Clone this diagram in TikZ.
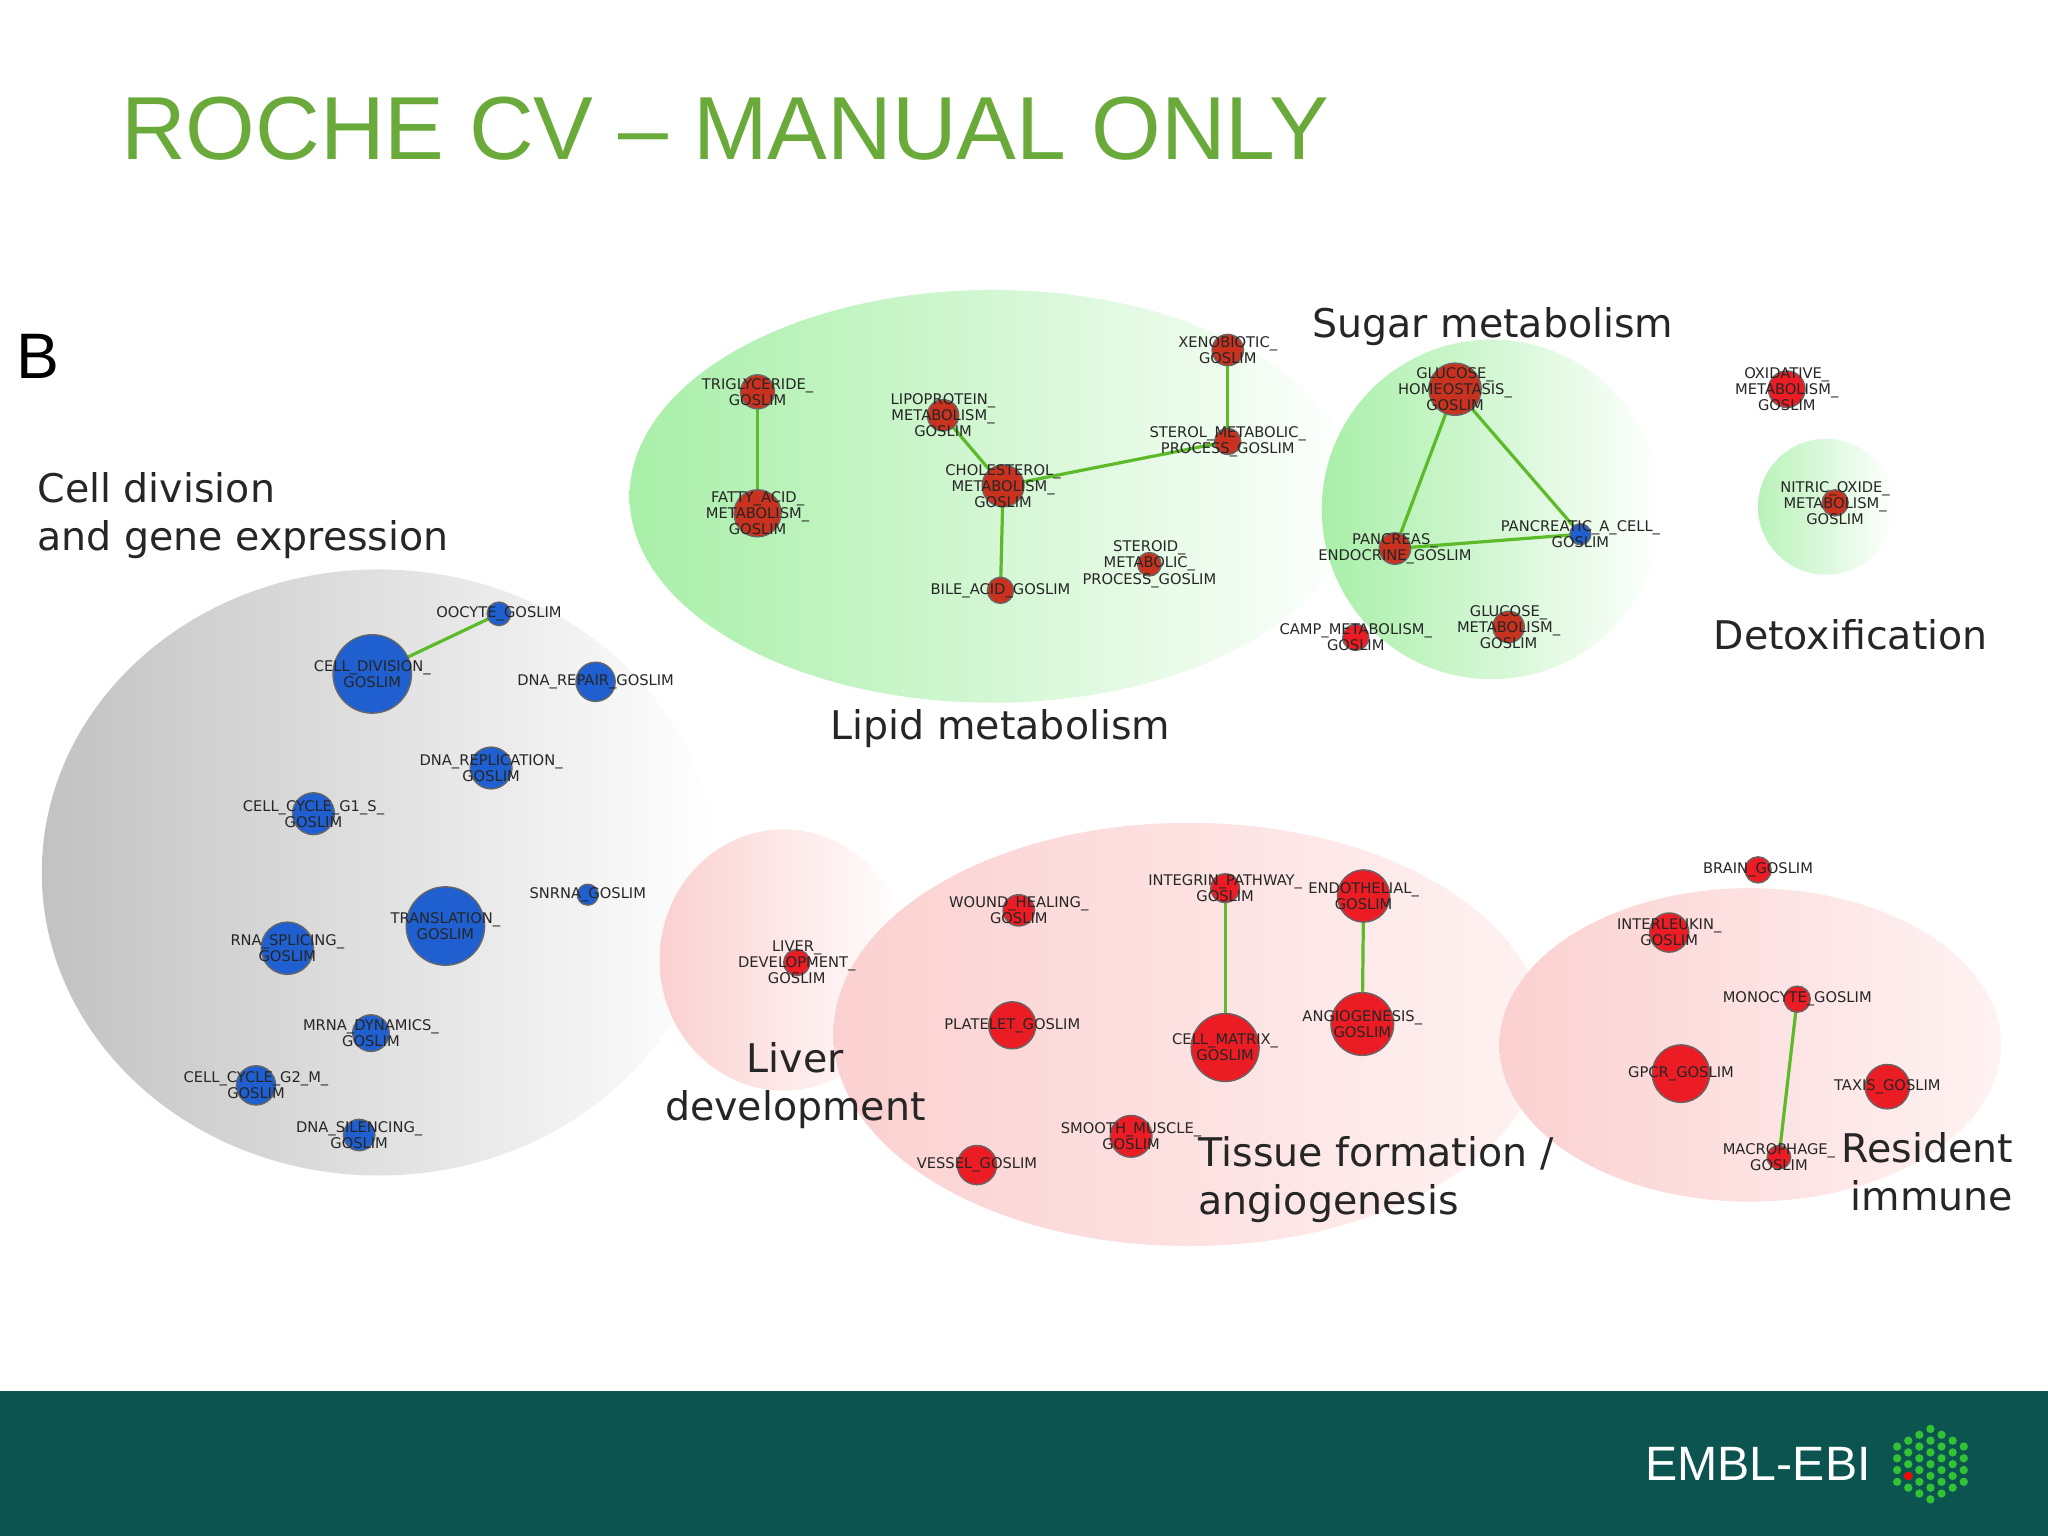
\documentclass[tikz,border=0pt]{standalone}
\usepackage{fontspec}
\setmainfont{DejaVu Sans}
\newfontfamily\titlefont{Liberation Sans}
\usetikzlibrary{shapes.geometric}
\definecolor{ttl}{HTML}{6AAA3A}
\definecolor{bar}{HTML}{0B5450}
\definecolor{nblue}{HTML}{1F5FD0}
\definecolor{nred}{HTML}{EC1C24}
\definecolor{nlip}{HTML}{C8321E}
\definecolor{edg}{HTML}{5DBB2A}
\definecolor{gblob}{HTML}{A8EFA8}
\definecolor{rblob}{HTML}{FBD0D0}
\pgfdeclarelayer{bg}
\pgfsetlayers{bg,main}
\tikzset{
 gnode/.style={circle,draw=black!60,line width=0.3pt,inner sep=0pt},
 glab/.style={font=\fontsize{3.2}{3.5}\selectfont,text=black!85,align=center,inner sep=0pt},
 grp/.style={font=\fontsize{8.6}{10.5}\selectfont,text=black!85,align=left,inner sep=0pt},
 gedge/.style={draw=edg,line width=0.7pt}
}
\newcommand\gn[6]{\node[gnode,fill=#5,minimum size=#4*0.02cm] (#1) at (#2,#3) {};\node[glab] (#1l) at (#2,#3) {#6};}
\begin{document}
\begin{tikzpicture}[x=0.01cm,y=-0.01cm]
\useasboundingbox (0,0) rectangle (1568,1176);
\begin{pgfonlayer}{bg}
\fill[white] (0,0) rectangle (1568,1176);
\shade[left color=black!24,right color=white] (290,668) ellipse [x radius=258,y radius=232];
\shade[left color=gblob,right color=white] (760,380) ellipse [x radius=278,y radius=158];
\shade[left color=gblob,right color=white] (1142,390) circle [radius=130];
\shade[left color=gblob!80!white,right color=white] (1398,388) circle [radius=52];
\shade[left color=rblob,right color=white] (600,735) ellipse [x radius=95,y radius=100];
\shade[left color=rblob,right color=white!95!red] (910,792) ellipse [x radius=272,y radius=162];
\shade[left color=rblob,right color=white!95!red] (1340,800) ellipse [x radius=192,y radius=120];
\end{pgfonlayer}
% title
\node[anchor=base west,inner sep=0pt,text=ttl,font=\titlefont\fontsize{19.5}{23}\selectfont] (title) at (92,122) {ROCHE CV – MANUAL ONLY};
\node[anchor=base west,inner sep=0pt,font=\titlefont\fontsize{14}{16}\selectfont] (B) at (12,290) {B};
% blue
\gn{oocyte}{382}{470}{9}{nblue}{OOCYTE\_GOSLIM}
\gn{celldiv}{285}{516}{30}{nblue}{CELL\_DIVISION\_\\GOSLIM}
\gn{dnarep}{456}{522}{15}{nblue}{DNA\_REPAIR\_GOSLIM}
\gn{dnarepl}{376}{588}{16}{nblue}{DNA\_REPLICATION\_\\GOSLIM}
\gn{ccg1}{240}{623}{16}{nblue}{CELL\_CYCLE\_G1\_S\_\\GOSLIM}
\gn{snrna}{450}{685}{8}{nblue}{SNRNA\_GOSLIM}
\gn{transl}{341}{709}{30}{nblue}{TRANSLATION\_\\GOSLIM}
\gn{rnasp}{220}{726}{20}{nblue}{RNA\_SPLICING\_\\GOSLIM}
\gn{mrna}{284}{791}{14}{nblue}{MRNA\_DYNAMICS\_\\GOSLIM}
\gn{ccg2}{196}{831}{15}{nblue}{CELL\_CYCLE\_G2\_M\_\\GOSLIM}
\gn{dnasil}{275}{869}{12}{nblue}{DNA\_SILENCING\_\\GOSLIM}
% lipid
\gn{trig}{580}{300}{13}{nlip}{TRIGLYCERIDE\_\\GOSLIM}
\gn{fatty}{580}{393}{18}{nlip}{FATTY\_ACID\_\\METABOLISM\_\\GOSLIM}
\gn{lipo}{722}{318}{12}{nlip}{LIPOPROTEIN\_\\METABOLISM\_\\GOSLIM}
\gn{chol}{768}{372}{16}{nlip}{CHOLESTEROL\_\\METABOLISM\_\\GOSLIM}
\gn{bile}{766}{452}{10}{nlip}{BILE\_ACID\_GOSLIM}
\gn{xeno}{940}{268}{12}{nlip}{XENOBIOTIC\_\\GOSLIM}
\gn{sterol}{940}{338}{10}{nlip}{STEROL\_METABOLIC\_\\PROCESS\_GOSLIM}
\gn{steroid}{880}{432}{9}{nlip}{STEROID\_\\METABOLIC\_\\PROCESS\_GOSLIM}
% sugar
\gn{ghom}{1114}{298}{20}{nlip}{GLUCOSE\_\\HOMEOSTASIS\_\\GOSLIM}
\gn{pacell}{1210}{409}{8}{nblue}{PANCREATIC\_A\_CELL\_\\GOSLIM}
\gn{pendo}{1068}{420}{12}{nlip}{PANCREAS\_\\ENDOCRINE\_GOSLIM}
\gn{camp}{1038}{488}{10}{nred}{CAMP\_METABOLISM\_\\GOSLIM}
\gn{gmet}{1155}{480}{12}{nlip}{GLUCOSE\_\\METABOLISM\_\\GOSLIM}
% detox
\gn{oxid}{1368}{298}{14}{nred}{OXIDATIVE\_\\METABOLISM\_\\GOSLIM}
\gn{nitric}{1405}{385}{10}{nlip}{NITRIC\_OXIDE\_\\METABOLISM\_\\GOSLIM}
% liver
\gn{liver}{610}{737}{10}{nred}{LIVER\_\\DEVELOPMENT\_\\GOSLIM}
% tissue
\gn{wound}{780}{697}{12}{nred}{WOUND\_HEALING\_\\GOSLIM}
\gn{integ}{938}{680}{11}{nred}{INTEGRIN\_PATHWAY\_\\GOSLIM}
\gn{endo}{1044}{686}{20}{nred}{ENDOTHELIAL\_\\GOSLIM}
\gn{plate}{775}{785}{18}{nred}{PLATELET\_GOSLIM}
\gn{cmat}{938}{802}{26}{nred}{CELL\_MATRIX\_\\GOSLIM}
\gn{angio}{1043}{784}{24}{nred}{ANGIOGENESIS\_\\GOSLIM}
\gn{smooth}{866}{870}{16}{nred}{SMOOTH\_MUSCLE\_\\GOSLIM}
\gn{vessel}{748}{892}{15}{nred}{VESSEL\_GOSLIM}
% resident
\gn{brain}{1346}{666}{10}{nred}{BRAIN\_GOSLIM}
\gn{inter}{1278}{714}{15}{nred}{INTERLEUKIN\_\\GOSLIM}
\gn{mono}{1376}{765}{10}{nred}{MONOCYTE\_GOSLIM}
\gn{gpcr}{1287}{822}{22}{nred}{GPCR\_GOSLIM}
\gn{taxis}{1445}{832}{17}{nred}{TAXIS\_GOSLIM}
\gn{macro}{1362}{886}{9}{nred}{MACROPHAGE\_\\GOSLIM}
% edges (behind nodes)
\begin{pgfonlayer}{bg}
\draw[gedge] (celldiv.center) -- (oocyte.center);
\draw[gedge] (trig.center) -- (fatty.center);
\draw[gedge] (lipo.center) -- (chol.center);
\draw[gedge] (chol.center) -- (bile.center);
\draw[gedge] (chol.center) -- (sterol.center);
\draw[gedge] (xeno.center) -- (sterol.center);
\draw[gedge] (ghom.center) -- (pacell.center);
\draw[gedge] (ghom.center) -- (pendo.center);
\draw[gedge] (pendo.center) -- (pacell.center);
\draw[gedge] (integ.center) -- (cmat.center);
\draw[gedge] (endo.center) -- (angio.center);
\draw[gedge] (mono.center) -- (macro.center);
\end{pgfonlayer}
% group labels
\node[grp,anchor=west] (g1) at (28,395) {Cell division\\and gene expression};
\node[grp] (g2) at (1143,250) {Sugar metabolism};
\node[grp] (g3) at (766,558) {Lipid metabolism};
\node[grp] (g4) at (1417,486) {Detoxification};
\node[grp,align=center] (g5) at (609,831) {Liver\\development};
\node[grp,anchor=west] (g6) at (917,903) {Tissue formation /\\angiogenesis};
\node[grp,align=right,anchor=east] (g7) at (1542,897) {Resident\\immune};
% bottom bar
\fill[bar] (0,1065) rectangle (1568,1176);
\node[text=white,font=\titlefont\fontsize{10.5}{12}\selectfont,inner sep=0pt] (embl) at (1346,1121) {EMBL-EBI};
\foreach \i in {-3,...,3}{
  \pgfmathtruncatemacro\n{7-abs(\i)}
  \foreach \j in {1,...,\n}{
    \fill[green!70!black!80!white] ({1478+\i*8.5},{1121+(\j-(\n+1)/2)*9}) circle [radius=3.2];
  }
}
\fill[red] (1461,1130) circle [radius=3.2];
\end{tikzpicture}
\end{document}
